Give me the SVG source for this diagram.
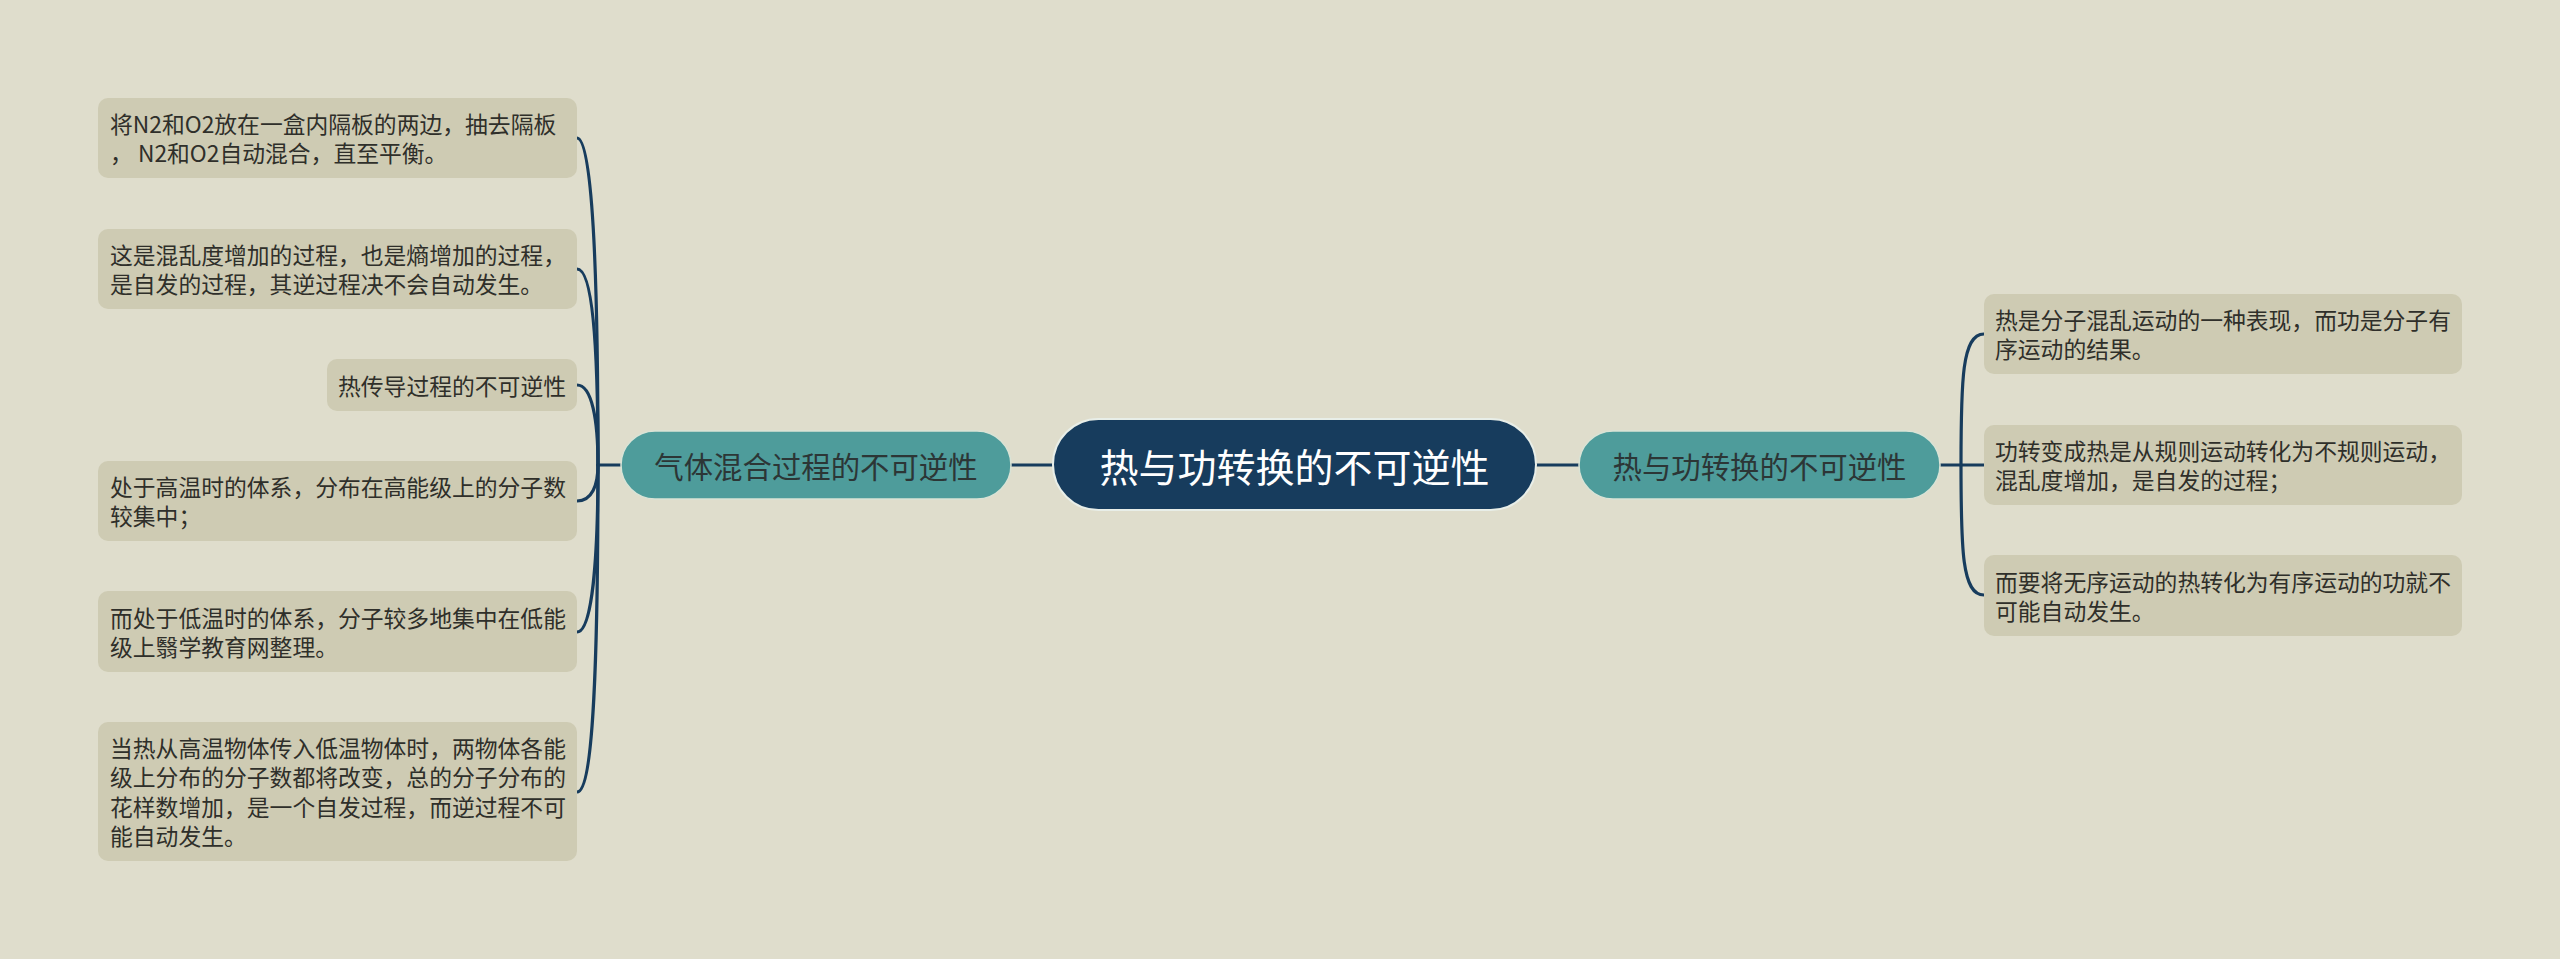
<svg xmlns="http://www.w3.org/2000/svg" width="2560" height="959" viewBox="0 0 2560 959">
<style>
text{font-family:"Noto Sans CJK SC","Noto Sans",sans-serif;dominant-baseline:central}
.box{fill:#cecbb3}
.t{font-size:22.8px;fill:#2f2f2a}
.tr{font-size:22.8px;fill:#2f2f2a}
.pill{fill:#4e9c9b;stroke:#d9e3d6;stroke-width:1.5}
.pt{font-size:29.4px;fill:#2c3636;text-anchor:middle}
.root{fill:#173c5d;stroke:#e8eee8;stroke-width:2}
.rt{font-size:39px;fill:#ffffff;text-anchor:middle}
.c{fill:none;stroke:#173c5d;stroke-width:3.2;stroke-linecap:round}
</style>
<rect width="2560" height="959" fill="#dfddcc"/>
<g id="connectors">
<path class="c" d="M1011 465 L1053 465"/>
<path class="c" d="M1536 465 L1579 465"/>
<path class="c" d="M621 465 L598 465"/>
<path class="c" d="M598 465 C598 300 594 138 577 138"/>
<path class="c" d="M598 465 C598 340 592 269 577 269"/>
<path class="c" d="M598 465 C598 420 592 385 577 385"/>
<path class="c" d="M598 465 C598 485 592 501 577 501"/>
<path class="c" d="M598 465 C598 560 592 632 577 632"/>
<path class="c" d="M598 465 C598 650 594 792 577 792"/>
<path class="c" d="M1940 465 L1984 465"/>
<path class="c" d="M1961 465 C1961 380 1962 334 1984 334"/>
<path class="c" d="M1961 465 C1961 550 1962 595 1984 595"/>
</g>
<g id="root">
<rect class="root" x="1053" y="419" width="483" height="91" rx="45.5"/>
<text class="rt" x="1294.5" y="464.5">热与功转换的不可逆性</text>
</g>
<g id="left-topic">
<rect class="pill" x="621" y="431" width="390" height="68" rx="34"/>
<text class="pt" x="816" y="465">气体混合过程的不可逆性</text>
</g>
<g id="right-topic">
<rect class="pill" x="1579" y="431" width="361" height="68" rx="34"/>
<text class="pt" x="1759.5" y="465">热与功转换的不可逆性</text>
</g>
<g id="l1">
<rect class="box" x="98" y="98" width="479" height="80" rx="10"/>
<text class="t" x="110" y="123.5">将N2和O2放在一盒内隔板的两边，抽去隔板</text>
<text class="t" x="110" y="152.5">， N2和O2自动混合，直至平衡。</text>
</g>
<g id="l2">
<rect class="box" x="98" y="229" width="479" height="80" rx="10"/>
<text class="t" x="110" y="254.5">这是混乱度增加的过程，也是熵增加的过程，</text>
<text class="t" x="110" y="283.5">是自发的过程，其逆过程决不会自动发生。</text>
</g>
<g id="l3">
<rect class="box" x="327" y="359" width="250" height="52" rx="10"/>
<text class="t" x="338" y="385">热传导过程的不可逆性</text>
</g>
<g id="l4">
<rect class="box" x="98" y="461" width="479" height="80" rx="10"/>
<text class="t" x="110" y="486.5">处于高温时的体系，分布在高能级上的分子数</text>
<text class="t" x="110" y="515.5">较集中；</text>
</g>
<g id="l5">
<rect class="box" x="98" y="591" width="479" height="81" rx="10"/>
<text class="t" x="110" y="617">而处于低温时的体系，分子较多地集中在低能</text>
<text class="t" x="110" y="646">级上翳学教育网整理。</text>
</g>
<g id="l6">
<rect class="box" x="98" y="722" width="479" height="139" rx="10"/>
<text class="t" x="110" y="747.5">当热从高温物体传入低温物体时，两物体各能</text>
<text class="t" x="110" y="776.8">级上分布的分子数都将改变，总的分子分布的</text>
<text class="t" x="110" y="806.2">花样数增加，是一个自发过程，而逆过程不可</text>
<text class="t" x="110" y="835.5">能自动发生。</text>
</g>
<g id="r1">
<rect class="box" x="1984" y="294" width="478" height="80" rx="10"/>
<text class="tr" x="1995" y="319.5">热是分子混乱运动的一种表现，而功是分子有</text>
<text class="tr" x="1995" y="348.5">序运动的结果。</text>
</g>
<g id="r2">
<rect class="box" x="1984" y="425" width="478" height="80" rx="10"/>
<text class="tr" x="1995" y="450.5">功转变成热是从规则运动转化为不规则运动，</text>
<text class="tr" x="1995" y="479.5">混乱度增加，是自发的过程；</text>
</g>
<g id="r3">
<rect class="box" x="1984" y="555" width="478" height="81" rx="10"/>
<text class="tr" x="1995" y="581">而要将无序运动的热转化为有序运动的功就不</text>
<text class="tr" x="1995" y="610">可能自动发生。</text>
</g>
</svg>
